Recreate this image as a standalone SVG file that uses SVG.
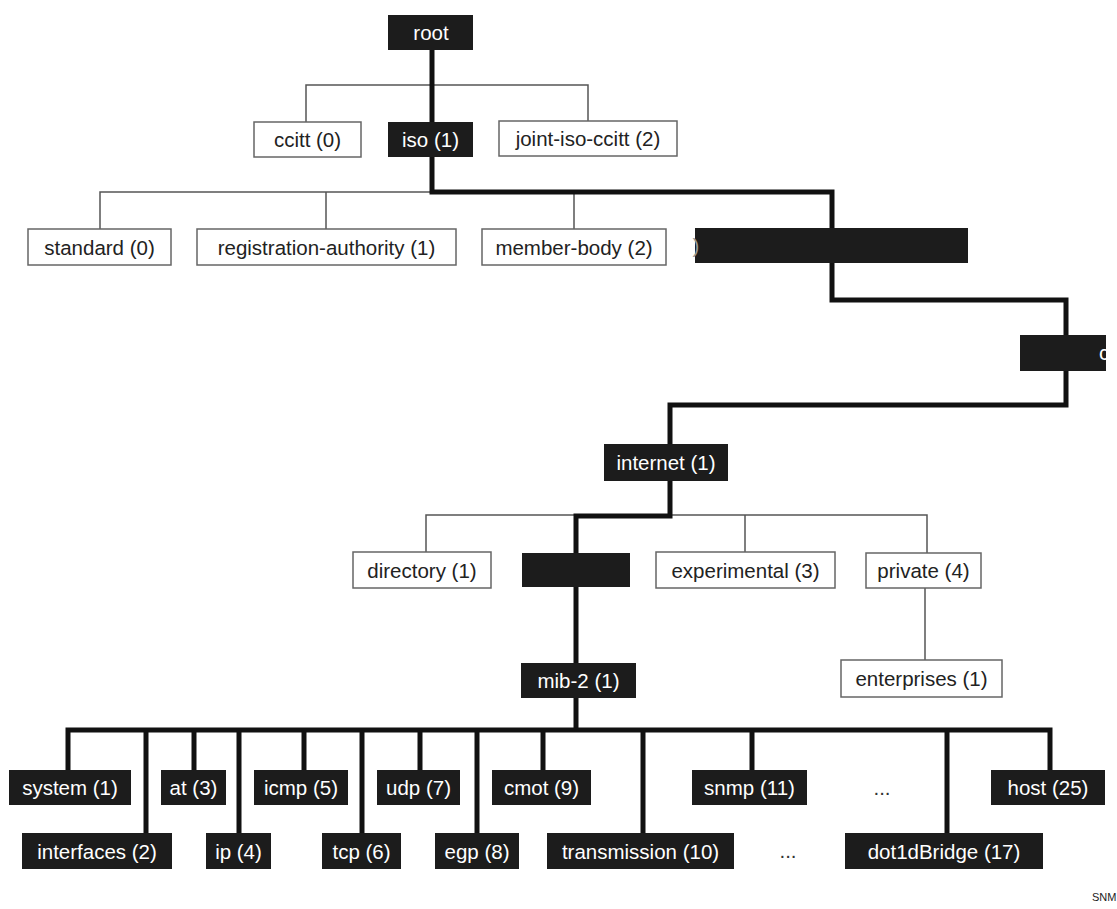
<svg xmlns="http://www.w3.org/2000/svg" width="1117" height="909" viewBox="0 0 1117 909">
<style>
text{font-family:"Liberation Sans",Arial,Helvetica,sans-serif;font-size:20.5px;text-anchor:middle}
.bk rect{fill:#1c1c1c}
.bk text{fill:#fff}
.wt rect{fill:#fff;stroke:#666;stroke-width:1.5}
.wt text{fill:#222}
.thin{fill:none;stroke:#555;stroke-width:1.5}
.thick{fill:none;stroke:#111;stroke-width:5;stroke-linejoin:miter}
.dots{fill:#333}
</style>
<rect width="1117" height="909" fill="#fff"/>
<g id="connectors">
<path class="thin" d="M306,122V85H588V121"/>
<path class="thin" d="M100,229V192H832"/>
<path class="thin" d="M326,192V229M574,192V229"/>
<path class="thin" d="M426,552V515H927V553M745,515V552"/>
<path class="thin" d="M925,588V660"/>
<path class="thick" d="M432,50V122"/>
<path class="thick" d="M432,157V192H832V228"/>
<path class="thick" d="M832,263V300H1066V335"/>
<path class="thick" d="M1066,371V405H670V444"/>
<path class="thick" d="M670,481V516H576V553"/>
<path class="thick" d="M576,587V663"/>
<path class="thick" d="M576,698V730"/>
<path class="thick" d="M68,770V730H1050V770"/>
<path class="thick" d="M146,730V833M194,730V770M239,730V833M304,730V770M362,730V833M420,730V770M477,730V833M543,730V770M643,730V833M752,730V770M947,730V833"/>
</g>
<g id="n-root" class="bk"><rect x="388" y="15" width="85" height="35"/><text x="431" y="40">root</text></g>
<g id="n-ccitt" class="wt"><rect x="254" y="122" width="107" height="35"/><text x="307.5" y="147">ccitt (0)</text></g>
<g id="n-iso" class="bk"><rect x="388" y="122" width="85" height="35"/><text x="430.5" y="147">iso (1)</text></g>
<g id="n-joint" class="wt"><rect x="499" y="121" width="178" height="35"/><text x="588" y="146">joint-iso-ccitt (2)</text></g>
<g id="n-standard" class="wt"><rect x="28" y="229" width="143" height="36"/><text x="99.5" y="254.5">standard (0)</text></g>
<g id="n-regauth" class="wt"><rect x="197" y="229" width="259" height="36"/><text x="326.5" y="254.5">registration-authority (1)</text></g>
<g id="n-member" class="wt"><rect x="482" y="229" width="184" height="36"/><text x="574" y="254.5">member-body (2)</text></g>
<g id="n-org" class="bk"><rect x="695" y="228" width="273" height="35"/><text x="696" y="253" style="fill:#999">)</text></g>
<g id="n-dod" class="bk"><rect x="1020" y="335" width="86" height="36"/><text x="1104" y="360">c</text></g>
<g id="n-internet" class="bk"><rect x="604" y="444" width="124" height="37"/><text x="666" y="470">internet (1)</text></g>
<g id="n-directory" class="wt"><rect x="353" y="552" width="138" height="36"/><text x="422" y="577.5">directory (1)</text></g>
<g id="n-mgmt" class="bk"><rect x="522" y="553" width="108" height="34"/></g>
<g id="n-experimental" class="wt"><rect x="656" y="552" width="179" height="36"/><text x="745.5" y="577.5">experimental (3)</text></g>
<g id="n-private" class="wt"><rect x="866" y="553" width="115" height="35"/><text x="923.5" y="578">private (4)</text></g>
<g id="n-enterprises" class="wt"><rect x="841" y="660" width="161" height="37"/><text x="921.5" y="686">enterprises (1)</text></g>
<g id="n-mib2" class="bk"><rect x="521" y="663" width="115" height="35"/><text x="578.5" y="688">mib-2 (1)</text></g>
<g id="n-system" class="bk"><rect x="9" y="770" width="122" height="35"/><text x="70" y="795">system (1)</text></g>
<g id="n-at" class="bk"><rect x="161" y="770" width="65" height="35"/><text x="193.5" y="795">at (3)</text></g>
<g id="n-icmp" class="bk"><rect x="254" y="770" width="94" height="35"/><text x="301" y="795">icmp (5)</text></g>
<g id="n-udp" class="bk"><rect x="377" y="770" width="83" height="35"/><text x="418.5" y="795">udp (7)</text></g>
<g id="n-cmot" class="bk"><rect x="492" y="770" width="99" height="35"/><text x="541.5" y="795">cmot (9)</text></g>
<g id="n-snmp" class="bk"><rect x="692" y="770" width="115" height="35"/><text x="749.5" y="795">snmp (11)</text></g>
<g id="n-dots1"><text class="dots" x="882" y="795">...</text></g>
<g id="n-host" class="bk"><rect x="991" y="770" width="114" height="35"/><text x="1048" y="795">host (25)</text></g>
<g id="n-interfaces" class="bk"><rect x="22" y="833" width="150" height="36"/><text x="97" y="858.5">interfaces (2)</text></g>
<g id="n-ip" class="bk"><rect x="206" y="833" width="65" height="36"/><text x="238.5" y="858.5">ip (4)</text></g>
<g id="n-tcp" class="bk"><rect x="322" y="833" width="79" height="36"/><text x="361.5" y="858.5">tcp (6)</text></g>
<g id="n-egp" class="bk"><rect x="435" y="833" width="84" height="36"/><text x="477" y="858.5">egp (8)</text></g>
<g id="n-transmission" class="bk"><rect x="547" y="833" width="187" height="36"/><text x="640.5" y="858.5">transmission (10)</text></g>
<g id="n-dots2"><text class="dots" x="788" y="858">...</text></g>
<g id="n-dot1dBridge" class="bk"><rect x="845" y="833" width="198" height="36"/><text x="944" y="858.5">dot1dBridge (17)</text></g>
<text x="1092" y="901" style="font-size:11px;text-anchor:start;fill:#222">SNM</text>
</svg>
